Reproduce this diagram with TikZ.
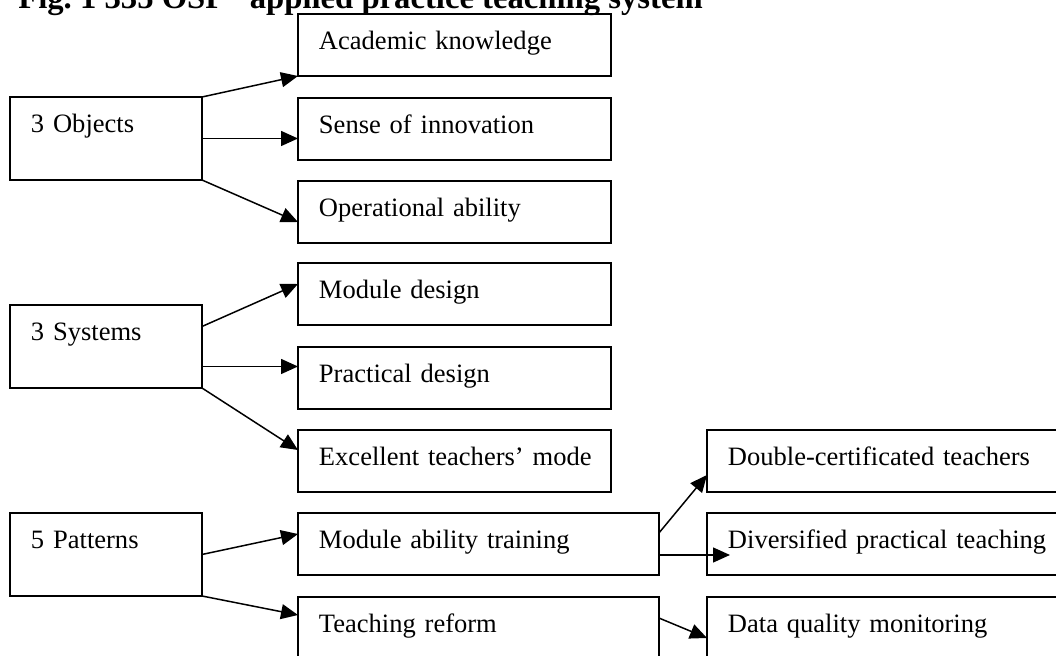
\documentclass[tikz,border=0pt]{standalone}
\usepackage{fontspec}
\setmainfont{Liberation Serif}
\usetikzlibrary{arrows.meta}

\begin{document}
\begin{tikzpicture}[x=0.02cm, y=-0.02cm,
  box/.style={draw, line width=1.15pt, anchor=north west, outer sep=0pt, inner xsep=0.42cm, inner ysep=0pt, align=left, text height=0.72cm, font=\fontsize{15.1}{18}\selectfont},
  lbox/.style={box, text width=3.0cm, text depth=0.94cm},
  mbox/.style={box, text width=5.42cm, text depth=0.52cm},
  wbox/.style={box, text width=6.38cm, text depth=0.52cm},
  rbox/.style={box, text width=6.76cm, text depth=0.52cm},
  arrow/.style={-{Triangle[length=0.34cm, width=0.3cm]}, line width=0.85pt}
]
\useasboundingbox (0,0) rectangle (1056,656);
\clip (0,0) rectangle (1056,656);

\node[anchor=base west, inner sep=0pt, font=\bfseries\fontsize{18.6}{22}\selectfont] (title) at (18,8) {Fig.\ 1 335 OSP\hspace{0.5em} applied practice teaching system};

\node[lbox] (obj) at (10,97) {3 Objects};
\node[lbox] (sys) at (10,305) {3 Systems};
\node[lbox] (pat) at (10,513) {5 Patterns};

\node[mbox] (acad) at (298,14) {Academic knowledge};
\node[mbox] (sense) at (298,98) {Sense of innovation};
\node[mbox] (oper) at (298,181) {Operational ability};
\node[mbox] (modd) at (298,263) {Module design};
\node[mbox] (prac) at (298,347) {Practical design};
\node[mbox] (exc) at (298,430) {\mbox{Excellent teachers’ mode}};
\node[wbox] (mat) at (298,513) {Module ability training};
\node[wbox] (tr) at (298,597) {Teaching reform};

\node[rbox] (dct) at (707,430) {Double-certificated teachers};
\node[rbox] (div) at (707,513) {Diversified practical teaching};
\node[rbox] (dqm) at (707,597) {Data quality monitoring};

\draw[arrow] (obj.north east) -- (acad.south west);
\draw[arrow] (obj.east) -- (obj.east -| sense.west);
\draw[arrow] (obj.south east) -- ([yshift=-0.2cm]oper.west);
\draw[arrow] ([yshift=0.4cm]sys.east) -- ([yshift=0.2cm]modd.west);
\draw[arrow] ([yshift=-0.4cm]sys.east) coordinate (s2) -- (s2 -| prac.west);
\draw[arrow] (sys.south east) -- ([yshift=0.22cm]exc.west);
\draw[arrow] (pat.east) -- ([yshift=0.2cm]mat.west);
\draw[arrow] (pat.south east) -- ([yshift=0.26cm]tr.west);
\draw[arrow] ([yshift=0.22cm]mat.east) -- ([yshift=-0.28cm]dct.west);
\coordinate (m2) at ([yshift=-0.22cm]mat.east);
\coordinate (d2) at (m2 -| div.west);
\draw[arrow] (m2) -- ([xshift=0.46cm]d2);
\draw[arrow] ([yshift=0.2cm]tr.east) -- ([yshift=-0.2cm]dqm.west);
\end{tikzpicture}
\end{document}
